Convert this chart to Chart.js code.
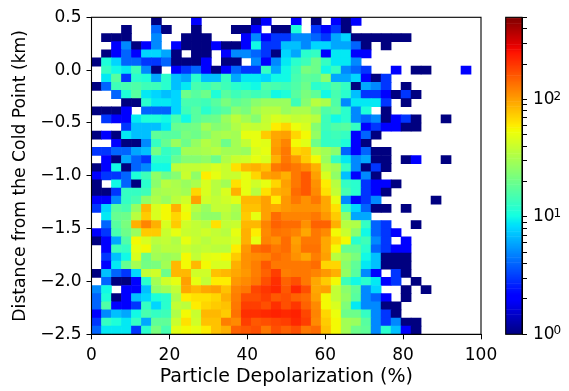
<!DOCTYPE html>
<html>
<head>
<meta charset="utf-8">
<script src="https://cdn.jsdelivr.net/npm/chart.js@4"></script>
<style>
  body { margin: 0; background: #fff; }
  canvas { position: absolute; left: 0; top: 0; }
</style>
</head>
<body>
<canvas id="heatmap" width="569" height="391"></canvas>
<canvas id="colorbar" width="569" height="391"></canvas>
<script>
// counts per cell, top row first (0 = empty bin)
const counts = [
  [0,0,0,0,0,0,1,0,0,0,2,0,0,0,0,0,1,2,0,0,2,0,1,0,2,1,2],
  [0,0,0,1,0,0,4,1,0,0,1,0,0,0,1,1,2,0,1,1,11,0,3,2,3,1],
  [0,1,1,1,0,0,5,0,0,1,1,1,0,0,0,2,5,2,3,3,5,5,4,3,6,8,1,1,1,1,1,1],
  [0,0,2,5,1,2,5,0,2,1,1,1,2,1,1,2,10,3,3,7,7,5,8,8,6,6,4,1,0,1],
  [0,1,2,4,2,8,8,6,1,0,1,1,0,2,5,5,4,3,1,8,6,12,13,2,9,9,2,2],
  [1,11,8,4,4,3,3,4,1,1,1,2,0,1,1,0,5,2,5,9,12,14,20,13,9,9,5],
  [0,13,10,9,14,5,1,0,2,3,4,2,1,2,4,3,3,13,6,10,14,22,20,10,13,5,4,3,0,0,2,0,1,1,0,0,0,2],
  [0,9,17,3,12,11,6,12,7,6,12,7,7,13,6,9,9,8,10,10,15,18,17,25,6,6,8,2,1,3],
  [1,4,14,15,16,14,14,12,7,9,15,14,16,14,12,11,10,16,15,14,16,20,12,13,16,13,1,6,5,3,0,1],
  [0,0,4,11,17,9,8,7,8,20,17,20,11,17,14,16,14,15,10,11,17,22,18,10,15,12,7,3,3,2,1,3,1],
  [0,0,0,1,1,12,9,9,8,15,15,14,17,22,18,20,25,28,28,28,14,24,35,32,16,5,9,9,9,3,0,1],
  [1,1,1,2,0,4,4,4,8,14,17,12,15,17,25,22,30,35,35,28,32,32,25,16,18,12,5,11,0,1],
  [0,3,2,2,9,11,11,10,15,10,17,19,20,28,36,30,24,38,45,42,38,40,35,14,10,12,5,4,5,1,2,3,1,0,0,1],
  [0,0,0,3,7,7,7,9,19,20,21,30,24,26,33,40,38,40,60,70,52,45,24,14,16,17,13,2,3,2,2,1,1],
  [1,2,1,9,7,7,18,17,17,22,20,24,30,32,30,50,50,75,95,100,70,55,27,13,14,13,2,4,1],
  [0,0,2,1,1,5,13,19,28,20,27,34,30,20,30,38,50,48,100,120,55,48,20,13,13,11,2,1],
  [3,3,4,4,6,7,21,13,15,30,30,32,35,30,30,28,45,50,105,130,70,75,35,30,25,4,2,4,1,1],
  [0,2,1,6,4,3,12,12,19,24,24,26,20,33,40,42,50,45,90,130,105,75,55,28,13,9,5,6,1,1,0,1,2,0,0,1],
  [1,2,10,1,4,5,10,10,36,38,38,40,45,40,65,85,90,80,130,140,130,115,90,35,30,13,5,1,3,1],
  [2,3,3,4,11,14,26,20,24,40,26,60,50,40,40,50,70,100,105,90,130,160,100,45,26,7,2,5,1],
  [1,0,10,4,1,12,25,35,32,28,32,45,35,30,65,50,42,50,70,100,130,160,110,60,35,13,12,3,2,2,1],
  [1,1,3,13,13,14,30,32,33,30,70,45,35,45,90,50,35,65,90,95,140,160,115,65,38,15,12,3,2,1],
  [2,2,5,13,15,26,33,28,36,42,100,42,38,42,48,85,85,100,60,105,130,110,130,95,50,5,2,3,5,0,0,0,0,0,1],
  [3,8,17,15,27,85,45,55,90,50,35,28,38,38,32,80,80,100,95,105,110,110,110,95,65,13,8,4,1,1,0,1],
  [0,9,19,20,35,75,45,55,70,55,30,26,26,35,30,75,50,100,140,120,120,120,130,105,75,26,6,6],
  [0,4,17,22,90,120,90,45,75,42,38,35,65,38,40,85,85,120,150,140,140,110,150,150,90,35,33,13,4,3,0,0,1],
  [2,3,15,20,28,75,75,40,50,40,38,42,38,35,50,90,60,115,135,130,120,95,130,115,55,40,25,10,4,3,2],
  [1,2,6,16,55,45,36,38,33,50,40,35,40,40,45,90,50,120,110,140,100,130,130,95,70,55,12,14,5,3,0,2],
  [0,2,14,13,50,55,32,36,35,40,36,38,36,35,60,105,140,150,130,140,105,135,135,95,55,19,18,12,4,3,2,2],
  [0,3,7,10,45,20,30,28,30,55,38,48,50,55,75,110,115,120,140,130,110,95,125,100,35,28,22,10,7,1,1,1],
  [0,2,9,19,30,21,22,30,85,55,85,55,45,45,90,110,125,160,130,130,130,130,140,70,70,25,18,9,7,1,1,1],
  [1,7,4,3,8,38,42,20,85,85,42,42,80,85,95,105,125,150,190,125,130,130,120,105,90,27,17,5,2,0,3,1],
  [0,4,1,1,2,12,30,42,50,100,50,38,60,60,105,115,130,170,210,150,170,130,95,75,55,14,10,12,9,2,3,0,1],
  [5,10,0,2,2,7,26,30,38,95,85,95,100,80,120,130,180,200,220,160,220,170,95,100,38,25,18,5,8,0,0,1,0,1],
  [4,11,1,2,7,8,11,12,32,60,65,65,70,90,125,170,170,190,160,170,150,140,100,55,38,27,17,5,4,2,0,1],
  [4,16,2,2,3,13,8,12,38,36,60,70,75,80,130,190,190,170,210,170,200,150,115,55,45,23,9,5,5,1,1],
  [2,5,7,6,10,15,13,14,33,55,40,85,85,75,135,210,210,220,230,220,230,180,120,70,52,20,20,13,5,3,1],
  [3,13,11,9,13,6,18,18,40,65,42,80,80,125,115,190,160,170,180,190,220,190,115,75,55,30,28,17,5,3,5,1,1],
  [4,9,9,9,3,12,22,15,48,55,50,60,80,90,150,160,170,130,170,150,170,130,140,80,55,30,20,18,5,12,7,2,1],
];
const xTicks = [0, 20, 40, 60, 80, 100];
const yTicks = [-2.5, -2, -1.5, -1, -0.5, 0, 0.5];
const cbarTicks = [1,2,3,4,5,6,7,8,9,10,20,30,40,50,60,70,80,90,100,200,300,400,500];

const nBins = 39;
const vmax = 500;
const tickFont = { family: "DejaVu Sans", size: 17 };

// matplotlib jet
function jet(t) {
  const lerp = (pts) => {
    for (let i = 1; i < pts.length; i++) {
      if (t <= pts[i][0]) {
        const [x0, y0] = pts[i - 1], [x1, y1] = pts[i];
        return y0 + (y1 - y0) * (t - x0) / (x1 - x0);
      }
    }
    return pts[pts.length - 1][1];
  };
  const r = lerp([[0, 0], [0.35, 0], [0.66, 1], [0.89, 1], [1, 0.5]]);
  const g = lerp([[0, 0], [0.125, 0], [0.375, 1], [0.64, 1], [0.91, 0], [1, 0]]);
  const b = lerp([[0, 0.5], [0.11, 1], [0.34, 1], [0.65, 0], [1, 0]]);
  return `rgb(${Math.round(r * 255)},${Math.round(g * 255)},${Math.round(b * 255)})`;
}
const colorFor = (v) => jet(Math.log10(v) / Math.log10(vmax));

const cells = [];
counts.forEach((row, r) => {
  row.forEach((v, c) => {
    if (v > 0) {
      const top = 0.5 - r * 3 / nBins;
      cells.push({ x: (c + 0.5) * 100 / nBins, y: [top - 3 / nBins, top], v: v });
    }
  });
});

// top and right spines
const frame = {
  id: "frame",
  afterDraw(chart) {
    const { ctx, chartArea: a } = chart;
    ctx.save();
    ctx.strokeStyle = "#000";
    ctx.lineWidth = 1.1;
    ctx.strokeRect(a.left, a.top, a.right - a.left, a.bottom - a.top);
    ctx.restore();
  },
};

new Chart(document.getElementById("heatmap"), {
  type: "bar",
  data: {
    datasets: [{
      data: cells,
      backgroundColor: (ctx) => (ctx.raw ? colorFor(ctx.raw.v) : "#fff"),
      barPercentage: 1,
      categoryPercentage: 1,
      borderWidth: 0,
    }],
  },
  plugins: [frame],
  options: {
    responsive: false,
    animation: false,
    layout: { padding: { top: 17.3, right: 88, left: 0, bottom: 0 } },
    plugins: { legend: { display: false }, tooltip: { enabled: false } },
    scales: {
      x: {
        type: "linear",
        offset: false,
        min: 0,
        max: 100,
        afterBuildTicks: (s) => { s.ticks = xTicks.map((value) => ({ value })); },
        afterFit: (s) => { s.height = 56.7; },
        ticks: { font: tickFont, color: "#000", padding: 6, maxRotation: 0 },
        grid: { offset: false, drawOnChartArea: false, tickLength: 5, color: "#000" },
        border: { color: "#000" },
        title: { display: true, text: "Particle Depolarization (%)", font: { family: "DejaVu Sans", size: 19 }, color: "#000", padding: { top: 0, bottom: 3 } },
      },
      y: {
        type: "linear",
        min: -2.5,
        max: 0.5,
        afterBuildTicks: (s) => { s.ticks = yTicks.map((value) => ({ value })); },
        afterFit: (s) => { s.width = 91.5; },
        ticks: {
          font: tickFont,
          color: "#000",
          padding: 5,
          callback: (v) => v.toFixed(1).replace("-", "\u2212"),
        },
        grid: { drawOnChartArea: false, tickLength: 5, color: "#000" },
        border: { color: "#000" },
        title: { display: true, text: "Distance from the Cold Point (km)", font: { family: "DejaVu Sans", size: 17.2 }, color: "#000", padding: { top: 10, bottom: 0 } },
      },
    },
  },
});

// colorbar strip, one floating bar per colour step
const cbarLevels = [];
for (let i = 0; i <= 256; i++) cbarLevels.push(Math.pow(vmax, i / 256));
const cbarBars = cbarLevels.slice(0, -1).map((lo, i) => ({ x: "", y: [lo, cbarLevels[i + 1]], t: (i + 0.5) / 256 }));

// exponent next to the "10" of each decade label
const decades = [[1, "0"], [10, "1"], [100, "2"]];
const exponents = {
  id: "exponents",
  afterDraw(chart) {
    const { ctx, scales } = chart;
    ctx.save();
    ctx.fillStyle = "#000";
    ctx.font = '12px "DejaVu Sans"';
    ctx.textBaseline = "middle";
    decades.forEach(([v, e]) => {
      ctx.fillText(e, 553.5, scales.y.getPixelForValue(v) - 3);
    });
    ctx.restore();
  },
};

new Chart(document.getElementById("colorbar"), {
  type: "bar",
  data: {
    labels: [""],
    datasets: [{
      data: cbarBars,
      backgroundColor: (ctx) => (ctx.raw ? jet(ctx.raw.t) : "#fff"),
      barPercentage: 1,
      categoryPercentage: 1,
      borderWidth: 0,
    }],
  },
  plugins: [frame, exponents],
  options: {
    responsive: false,
    animation: false,
    layout: { padding: { top: 17.3, left: 505.7, right: 0, bottom: 56.7 } },
    plugins: { legend: { display: false }, tooltip: { enabled: false } },
    scales: {
      x: { type: "category", display: false },
      y: {
        type: "logarithmic",
        position: "right",
        min: 1,
        max: vmax,
        afterBuildTicks: (s) => { s.ticks = cbarTicks.map((value) => ({ value })); },
        afterFit: (s) => { s.width = 47; },
        ticks: {
          font: tickFont,
          color: "#000",
          padding: 6,
          autoSkip: false,
          callback: (v) => (decades.some((d) => d[0] === v) ? "10" : ""),
        },
        grid: { drawOnChartArea: false, tickLength: 5, color: "#000" },
        border: { color: "#000" },
      },
    },
  },
});
</script>
</body>
</html>
